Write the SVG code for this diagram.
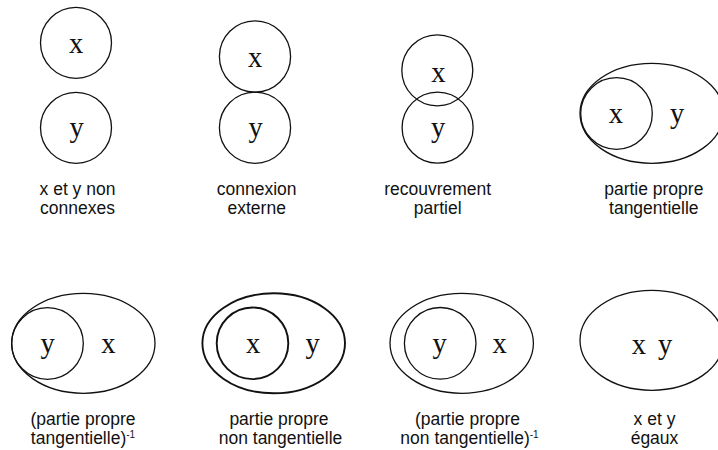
<svg xmlns="http://www.w3.org/2000/svg" width="718" height="450" viewBox="0 0 718 450">
<style>
.s{fill:none;stroke:#111;stroke-width:1.3}
.b{fill:none;stroke:#111;stroke-width:1.9}
.l{font-family:"Liberation Serif","Times New Roman",serif;font-size:28.5px;fill:#111;text-anchor:middle}
.c{font-family:"Liberation Sans",Arial,sans-serif;font-size:17.5px;fill:#111;text-anchor:middle}
.sup{font-size:10px}
</style>
<rect width="718" height="450" fill="#fff"/>
<g id="p1">
  <g id="p1-x"><circle class="s" cx="76" cy="42.8" r="35.5"/><text class="l" x="76" y="52.5">x</text></g>
  <g id="p1-y"><circle class="s" cx="76" cy="127.8" r="35.5"/><text class="l" x="76.5" y="137">y</text></g>
  <text class="c" x="77.5" y="195">x et y non</text>
  <text class="c" x="77.5" y="214">connexes</text>
</g>
<g id="p2">
  <g id="p2-x"><circle class="s" cx="255" cy="56.5" r="35.6"/><text class="l" x="255" y="66.5">x</text></g>
  <g id="p2-y"><circle class="s" cx="255" cy="127.7" r="35.6"/><text class="l" x="255.5" y="137">y</text></g>
  <text class="c" x="256.7" y="195">connexion</text>
  <text class="c" x="256.7" y="214">externe</text>
</g>
<g id="p3">
  <g id="p3-x"><circle class="s" cx="437.3" cy="70.3" r="35.5"/><text class="l" x="438.3" y="81.5">x</text></g>
  <g id="p3-y"><circle class="s" cx="437.6" cy="127.7" r="35.5"/><text class="l" x="438" y="137">y</text></g>
  <text class="c" x="437.7" y="195">recouvrement</text>
  <text class="c" x="437.7" y="214">partiel</text>
</g>
<g id="p4">
  <g id="p4-y"><ellipse class="s" cx="651.7" cy="113.3" rx="71.7" ry="50"/><text class="l" x="677" y="123.3">y</text></g>
  <g id="p4-x"><circle class="s" cx="616.5" cy="113.5" r="35.8"/><text class="l" x="615.8" y="123.3">x</text></g>
  <text class="c" x="653.8" y="195">partie propre</text>
  <text class="c" x="653.8" y="214">tangentielle</text>
</g>
<g id="p5">
  <g id="p5-x"><ellipse class="s" cx="83.3" cy="343.3" rx="71.7" ry="50"/><text class="l" x="108.3" y="353.3">x</text></g>
  <g id="p5-y"><circle class="s" cx="47.5" cy="343.5" r="35.8"/><text class="l" x="47.7" y="353.3">y</text></g>
  <text class="c" x="83" y="425">(partie propre</text>
  <text class="c" x="83" y="444.3">tangentielle)<tspan class="sup" dy="-6">-1</tspan></text>
</g>
<g id="p6">
  <g id="p6-y"><ellipse class="b" cx="273.7" cy="343.3" rx="71.3" ry="50"/><text class="l" x="312.7" y="353.3">y</text></g>
  <g id="p6-x"><circle class="b" cx="252.5" cy="343.3" r="35.8"/><text class="l" x="253" y="353.3">x</text></g>
  <text class="c" x="279" y="425">partie propre</text>
  <text class="c" x="280.5" y="444.3">non tangentielle</text>
</g>
<g id="p7">
  <g id="p7-x"><ellipse class="s" cx="461.7" cy="343.3" rx="71.7" ry="50"/><text class="l" x="499.7" y="353.3">x</text></g>
  <g id="p7-y"><circle class="s" cx="440.2" cy="343.3" r="35.8"/><text class="l" x="439.5" y="353.3">y</text></g>
  <text class="c" x="467.5" y="425">(partie propre</text>
  <text class="c" x="469.5" y="444.3">non tangentielle)<tspan class="sup" dy="-6">-1</tspan></text>
</g>
<g id="p8">
  <g id="p8-xy"><ellipse class="s" cx="651.7" cy="340.3" rx="71.7" ry="50"/><text class="l" x="652" y="354" word-spacing="5">x y</text></g>
  <text class="c" x="654.5" y="425">x et y</text>
  <text class="c" x="654.5" y="444.3">égaux</text>
</g>
</svg>
